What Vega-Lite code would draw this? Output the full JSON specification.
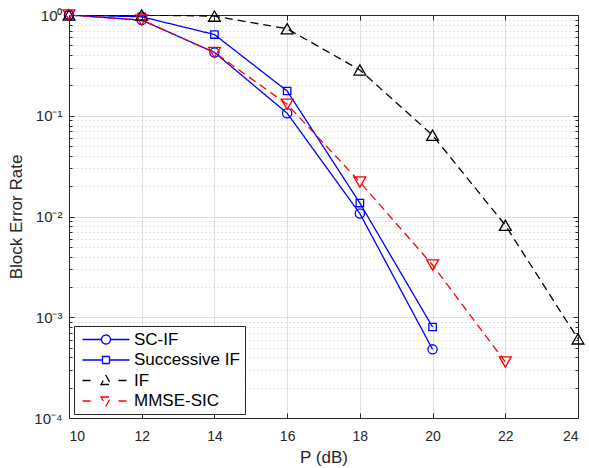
{
  "$schema": "https://vega.github.io/schema/vega-lite/v6.json",
  "width": 509,
  "height": 403,
  "autosize": {"type": "none"},
  "padding": {"left": 69, "top": 15, "right": 11, "bottom": 50},
  "background": "white",
  "config": {
    "view": {"stroke": null},
    "font": "Liberation Sans",
    "axis": {
      "labelFont": "Liberation Sans",
      "titleFont": "Liberation Sans",
      "labelFontSize": 14,
      "titleFontSize": 17,
      "titleFontWeight": "normal",
      "labelColor": "#262626",
      "titleColor": "#262626",
      "domainColor": "#262626",
      "tickColor": "#262626",
      "domainWidth": 1,
      "tickWidth": 1
    }
  },
  "data": {
    "values": [
      {"series": "SC-IF", "P": 10, "ber": 1.0},
      {"series": "SC-IF", "P": 12, "ber": 0.89},
      {"series": "SC-IF", "P": 14, "ber": 0.425},
      {"series": "SC-IF", "P": 16, "ber": 0.106},
      {"series": "SC-IF", "P": 18, "ber": 0.0107},
      {"series": "SC-IF", "P": 20, "ber": 0.00048},
      {"series": "Successive IF", "P": 10, "ber": 1.0},
      {"series": "Successive IF", "P": 12, "ber": 0.96},
      {"series": "Successive IF", "P": 14, "ber": 0.64},
      {"series": "Successive IF", "P": 16, "ber": 0.176},
      {"series": "Successive IF", "P": 18, "ber": 0.0136},
      {"series": "Successive IF", "P": 20, "ber": 0.0008},
      {"series": "IF", "P": 10, "ber": 1.0},
      {"series": "IF", "P": 12, "ber": 1.0},
      {"series": "IF", "P": 14, "ber": 0.975},
      {"series": "IF", "P": 16, "ber": 0.73},
      {"series": "IF", "P": 18, "ber": 0.285},
      {"series": "IF", "P": 20, "ber": 0.064},
      {"series": "IF", "P": 22, "ber": 0.0082},
      {"series": "IF", "P": 24, "ber": 0.00061},
      {"series": "MMSE-SIC", "P": 10, "ber": 1.0},
      {"series": "MMSE-SIC", "P": 12, "ber": 0.89},
      {"series": "MMSE-SIC", "P": 14, "ber": 0.425},
      {"series": "MMSE-SIC", "P": 16, "ber": 0.13},
      {"series": "MMSE-SIC", "P": 18, "ber": 0.022},
      {"series": "MMSE-SIC", "P": 20, "ber": 0.0033},
      {"series": "MMSE-SIC", "P": 22, "ber": 0.00036}
    ]
  },
  "layer": [
    {
      "mark": {"type": "line", "strokeWidth": 1.3, "clip": true},
      "encoding": {
        "x": {
          "field": "P", "type": "quantitative",
          "scale": {"domain": [10, 24], "nice": false, "zero": false},
          "axis": {
            "orient": "bottom",
            "values": [10, 12, 14, 16, 18, 20, 22, 24],
            "title": "P (dB)",
            "titleFontSize": 17,
            "labelFontSize": 14,
            "titlePadding": 6,
            "grid": true,
            "gridColor": "#dedede",
            "tickSize": -5,
            "labelPadding": 16
          }
        },
        "y": {
          "field": "ber", "type": "quantitative",
          "scale": {"type": "log", "domain": [0.0001, 1], "nice": false},
          "axis": {
            "orient": "left",
            "values": [0.0001, 0.0002, 0.0003, 0.0004, 0.0005, 0.0006, 0.0007, 0.0008, 0.0009,
                       0.001, 0.002, 0.003, 0.004, 0.005, 0.006, 0.007, 0.008, 0.009,
                       0.01, 0.02, 0.03, 0.04, 0.05, 0.06, 0.07, 0.08, 0.09,
                       0.1, 0.2, 0.3, 0.4, 0.5, 0.6, 0.7, 0.8, 0.9, 1],
            "labelExpr": "datum.value == 1 ? '10⁰' : datum.value == 0.1 ? '10⁻¹' : datum.value == 0.01 ? '10⁻²' : datum.value == 0.001 ? '10⁻³' : datum.value == 0.0001 ? '10⁻⁴' : ''",
            "title": "Block Error Rate",
            "titleFontSize": 17,
            "labelFontSize": 15,
            "titlePadding": 8,
            "grid": true,
            "gridColor": {"condition": {"test": "indexof([1,0.1,0.01,0.001,0.0001], datum.value) >= 0", "value": "#dedede"}, "value": "#c4c4c4"},
            "gridDash": {"condition": {"test": "indexof([1,0.1,0.01,0.001,0.0001], datum.value) >= 0", "value": []}, "value": [1, 3]},
            "tickSize": {"condition": {"test": "indexof([1,0.1,0.01,0.001,0.0001], datum.value) >= 0", "value": -5}, "value": -3},
            "labelPadding": 12,
            "labelOverlap": false
          }
        },
        "color": {
          "field": "series", "type": "nominal",
          "scale": {"domain": ["SC-IF", "Successive IF", "IF", "MMSE-SIC"], "range": ["#0000ff", "#0000ff", "#000000", "#ff0000"]},
          "legend": {
            "orient": "none",
            "legendX": 5,
            "legendY": 311,
            "title": null,
            "labelFont": "Liberation Sans",
            "labelFontSize": 17,
            "labelColor": "black",
            "symbolSize": 100,
            "symbolStrokeWidth": 1.3,
            "strokeColor": "#262626",
            "fillColor": "white",
            "padding": 5,
            "rowPadding": 2.5,
            "labelOffset": 38,
            "encode": {
              "symbols": {
                "update": {
                  "shape": {"signal": "datum.value === 'SC-IF' ? 'M-1,0L2.8,0M4.6,0L8.4,0M4.6,0A0.9,0.9,0,1,1,2.8,0A0.9,0.9,0,1,1,4.6,0' : datum.value === 'Successive IF' ? 'M-1,0L3,0M4.4,0L8.4,0M3,-0.7L4.4,-0.7L4.4,0.7L3,0.7Z' : datum.value === 'IF' ? 'M-1,0L0.8,0M6.2,0L8.4,0M2.7,0.8L4.7,0.8L3.7,-1Z' : 'M-1,0L0.8,0M6.2,0L8.4,0M2.7,-0.8L4.7,-0.8L3.7,1Z'"},
                  "fill": {"value": "transparent"},
                  "strokeDash": {"value": []}
                }
              }
            }
          }
        },
        "strokeDash": {
          "field": "series", "type": "nominal",
          "scale": {"domain": ["SC-IF", "Successive IF", "IF", "MMSE-SIC"], "range": [[1, 0], [1, 0], [8, 5], [8, 5]]},
          "legend": null
        }
      }
    },
    {
      "transform": [{"filter": "datum.series === 'SC-IF'"}],
      "mark": {"type": "point", "shape": "circle", "filled": false, "stroke": "#0000ff", "size": 85, "strokeWidth": 1.3, "opacity": 1},
      "encoding": {
        "x": {
          "field": "P", "type": "quantitative",
          "axis": {
            "orient": "top",
            "values": [10, 12, 14, 16, 18, 20, 22, 24],
            "labels": false,
            "title": null,
            "grid": false,
            "tickSize": -5
          }
        },
        "y": {
          "field": "ber", "type": "quantitative",
          "axis": {
            "orient": "right",
            "values": [0.0001, 0.0002, 0.0003, 0.0004, 0.0005, 0.0006, 0.0007, 0.0008, 0.0009,
                       0.001, 0.002, 0.003, 0.004, 0.005, 0.006, 0.007, 0.008, 0.009,
                       0.01, 0.02, 0.03, 0.04, 0.05, 0.06, 0.07, 0.08, 0.09,
                       0.1, 0.2, 0.3, 0.4, 0.5, 0.6, 0.7, 0.8, 0.9, 1],
            "labels": false,
            "title": null,
            "grid": false,
            "tickSize": {"condition": {"test": "indexof([1,0.1,0.01,0.001,0.0001], datum.value) >= 0", "value": -5}, "value": -3}
          }
        }
      }
    },
    {
      "transform": [{"filter": "datum.series === 'Successive IF'"}],
      "mark": {"type": "point", "shape": "square", "filled": false, "stroke": "#0000ff", "size": 55, "strokeWidth": 1.3, "opacity": 1},
      "encoding": {
        "x": {"field": "P", "type": "quantitative", "axis": null},
        "y": {"field": "ber", "type": "quantitative", "axis": null}
      }
    },
    {
      "transform": [{"filter": "datum.series === 'IF'"}],
      "mark": {"type": "point", "shape": "triangle-up", "filled": false, "stroke": "#000000", "size": 140, "strokeWidth": 1.3, "opacity": 1},
      "encoding": {
        "x": {"field": "P", "type": "quantitative", "axis": null},
        "y": {"field": "ber", "type": "quantitative", "axis": null}
      }
    },
    {
      "transform": [{"filter": "datum.series === 'MMSE-SIC'"}],
      "mark": {"type": "point", "shape": "triangle-down", "filled": false, "stroke": "#ff0000", "size": 140, "strokeWidth": 1.3, "opacity": 1},
      "encoding": {
        "x": {"field": "P", "type": "quantitative", "axis": null},
        "y": {"field": "ber", "type": "quantitative", "axis": null}
      }
    }
  ],
  "resolve": {"axis": {"x": "independent", "y": "independent"}}
}
